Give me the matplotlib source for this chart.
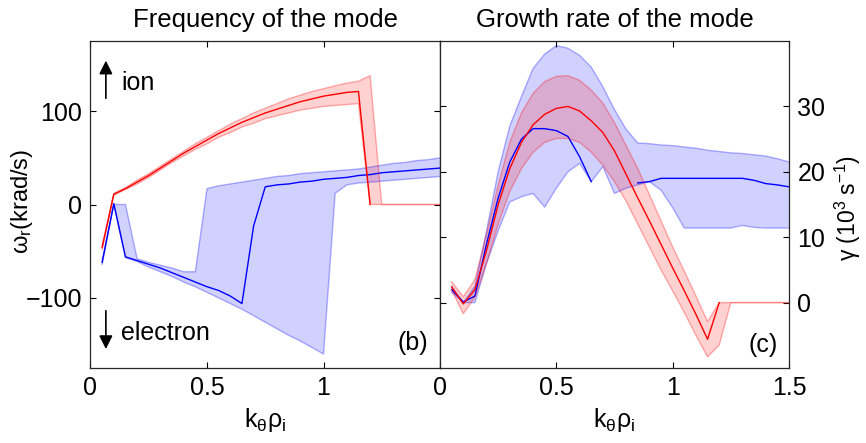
import numpy as np
import matplotlib
matplotlib.use('Agg')
from matplotlib import pyplot as plt

plt.rcParams['font.family'] = ['Liberation Sans', 'DejaVu Sans']
plt.rcParams['font.size'] = 18
plt.rcParams['mathtext.fontset'] = 'custom'
plt.rcParams['mathtext.rm'] = 'Liberation Sans'
plt.rcParams['mathtext.it'] = 'Liberation Sans'

nan = np.nan

# k_theta * rho_i grid
k = [0.05, 0.10, 0.15, 0.20, 0.25, 0.30, 0.35, 0.40, 0.45, 0.50,
     0.55, 0.60, 0.65, 0.70, 0.75, 0.80, 0.85, 0.90, 0.95, 1.00,
     1.05, 1.10, 1.15, 1.20, 1.25, 1.30, 1.35, 1.40, 1.45, 1.50]

# real frequency (krad/s), ion branch (red)
w_ion = [-46, 11, 17, 24, 31, 39, 47, 55, 62, 69,
         76, 82, 88, 93, 98, 102, 106, 110, 113, 116,
         118, 120, 121, 0, nan, nan, nan, nan, nan, nan]
w_ion_hi = [-44, 12, 18, 26, 33, 41, 49, 57, 65, 72,
            79, 86, 92, 98, 103, 108, 113, 117, 121, 124,
            127, 130, 132, 138, 0, 0, 0, 0, 0, 0]
w_ion_lo = [-48, 10, 16, 22, 29, 37, 45, 52, 59, 65,
            72, 77, 83, 87, 92, 95, 98, 101, 103, 105,
            106, 107, 108, 0, 0, 0, 0, 0, 0, 0]

# real frequency (krad/s), electron branch (blue)
w_el = [-62, 1, -56, -60, -64, -68, -73, -78, -83, -88,
        -92, -98, -106, -23, 19, 21, 22, 24, 25, 27,
        28, 29, 31, 32, 34, 35, 36, 37, 38, 39]
w_el_hi = [-60, 0, 0, -58, -62, -65, -68, -72, -72, 17,
           20, 22, 24, 26, 28, 30, 31, 33, 34, 35,
           36, 37, 38, 40, 42, 44, 45, 47, 48, 50]
w_el_lo = [-64, 0, -57, -61, -67, -72, -77, -83, -88, -94,
           -100, -106, -112, -119, -126, -133, -140, -146, -153, -160,
           12, 21, 23, 24, 25, 26, 27, 28, 29, 30]

# growth rate (10^3 s^-1), ion branch (red)
g_ion = [2.4, -0.2, 2.0, 8.0, 15.0, 20.5, 24.5, 27.2, 28.8, 29.7,
         30.0, 29.3, 27.8, 26.0, 23.2, 19.6, 16.0, 12.5, 8.9, 5.3,
         1.8, -1.8, -5.6, 0, nan, nan, nan, nan, nan, nan]
g_ion_hi = [3.2, 0.9, 3.5, 10.5, 18.0, 24.5, 29.0, 32.0, 33.8, 34.6,
            34.7, 34.0, 32.5, 30.5, 27.5, 24.0, 20.5, 16.5, 12.5, 8.5,
            4.8, 1.0, -2.9, 0, 0, 0, 0, 0, 0, 0]
g_ion_lo = [1.9, -1.7, 0.8, 6.0, 12.0, 17.0, 20.5, 23.0, 24.5, 25.1,
            25.1, 24.5, 23.0, 21.0, 18.5, 15.5, 12.0, 8.5, 5.0, 1.8,
            -1.5, -5.0, -8.3, -6.5, 0, 0, 0, 0, 0, 0]

# growth rate (10^3 s^-1), electron branch (blue)
g_el = [2.0, 0.1, 1.0, 9.0, 16.0, 21.5, 25.0, 26.6, 26.6, 26.3,
        25.4, 22.3, 18.5, nan, nan, nan, 18.3, 18.5, 19.0, 19.0,
        19.0, 19.0, 19.0, 19.0, 19.0, 19.0, 18.7, 18.2, 18.0, 17.7]
g_el_hi = [2.5, 0, 2.5, 11.0, 20.0, 27.0, 31.5, 35.8, 38.0, 39.3,
           38.9, 37.8, 36.0, 33.0, 29.5, 26.5, 24.4, 24.3, 24.1, 24.0,
           23.8, 23.6, 23.3, 23.1, 22.9, 22.8, 22.6, 22.4, 22.0, 21.5]
g_el_lo = [1.6, 0, 0, 6.0, 11.0, 15.4, 16.2, 16.7, 14.6, 17.5,
           20.0, 21.3, 18.5, 20.8, 16.7, 17.5, 18.0, 18.5, 17.2, 14.5,
           11.4, 11.4, 11.4, 11.4, 11.4, 11.8, 11.5, 11.4, 11.4, 11.4]


def draw_branch(ax, mean, hi, lo, color):
    """ shaded band with faint edges and the mean on top """
    ax.fill_between(k, lo, hi, facecolor=color, alpha=0.18, lw=0)
    ax.plot(k, hi, color=color, alpha=0.3, lw=1)
    ax.plot(k, lo, color=color, alpha=0.3, lw=1)
    ax.plot(k, mean, color=color, lw=1)


def style_axes(ax):
    ax.tick_params(direction='in', length=4, width=0.8, top=True,
                   bottom=True, left=True, right=True, pad=6)
    for sp in ax.spines.values():
        sp.set_linewidth(0.9)
        sp.set_color('#262626')
    ax.set_xlim(0, 1.5)
    ax.set_xlabel(r'k$_\theta$$\rho_{\rm i}$', labelpad=4)


fig = plt.figure(figsize=(8.66, 4.43), dpi=100)
ax1 = fig.add_axes([0.1045, 0.1693, 0.4036, 0.7381])
ax2 = fig.add_axes([0.5081, 0.1693, 0.4030, 0.7381])

# frequency panel
draw_branch(ax1, w_el, w_el_hi, w_el_lo, 'blue')
draw_branch(ax1, w_ion, w_ion_hi, w_ion_lo, 'red')
style_axes(ax1)
ax1.set_ylim(-175, 175)
ax1.set_yticks([-100, 0, 100])
ax1.set_xticks([0, 0.5, 1])
ax1.set_xticklabels(['0', '0.5', '1'])
ax1.set_ylabel(r'$\omega_{\rm r}$(krad/s)', fontsize=17)
ax1.yaxis.set_label_coords(-0.159, 0.51)
ax1.set_title('Frequency of the mode', fontsize=18.5, pad=10)

arrow_kw = dict(arrowstyle='-|>', color='k', lw=1.2,
                mutation_scale=20, shrinkA=0, shrinkB=0)
ax1.annotate('', xy=(0.044, 0.94), xytext=(0.044, 0.825),
             xycoords='axes fraction', arrowprops=arrow_kw)
ax1.annotate('', xy=(0.044, 0.058), xytext=(0.044, 0.175),
             xycoords='axes fraction', arrowprops=arrow_kw)
ax1.text(0.088, 0.873, 'ion', transform=ax1.transAxes, va='center')
ax1.text(0.088, 0.106, 'electron', transform=ax1.transAxes, va='center')
ax1.text(0.967, 0.075, '(b)', transform=ax1.transAxes, ha='right',
         va='center')

# growth rate panel
draw_branch(ax2, g_el, g_el_hi, g_el_lo, 'blue')
draw_branch(ax2, g_ion, g_ion_hi, g_ion_lo, 'red')
style_axes(ax2)
ax2.set_ylim(-10, 40)
ax2.set_yticks([0, 10, 20, 30])
ax2.set_xticks([0, 0.5, 1, 1.5])
ax2.set_xticklabels(['0', '0.5', '1', '1.5'])
ax2.yaxis.tick_right()
ax2.tick_params(left=True, right=True, labelleft=False, labelright=True)
ax2.yaxis.set_label_position('right')
ax2.set_ylabel(r'$\gamma$ (10$^3$ s$^{-1}$)', fontsize=16.5)
ax2.yaxis.set_label_coords(1.125, 0.49)
ax2.set_title('Growth rate of the mode', fontsize=18.5, pad=10)
ax2.text(0.969, 0.070, '(c)', transform=ax2.transAxes, ha='right',
         va='center')

fig.savefig('out.png', dpi=100)
